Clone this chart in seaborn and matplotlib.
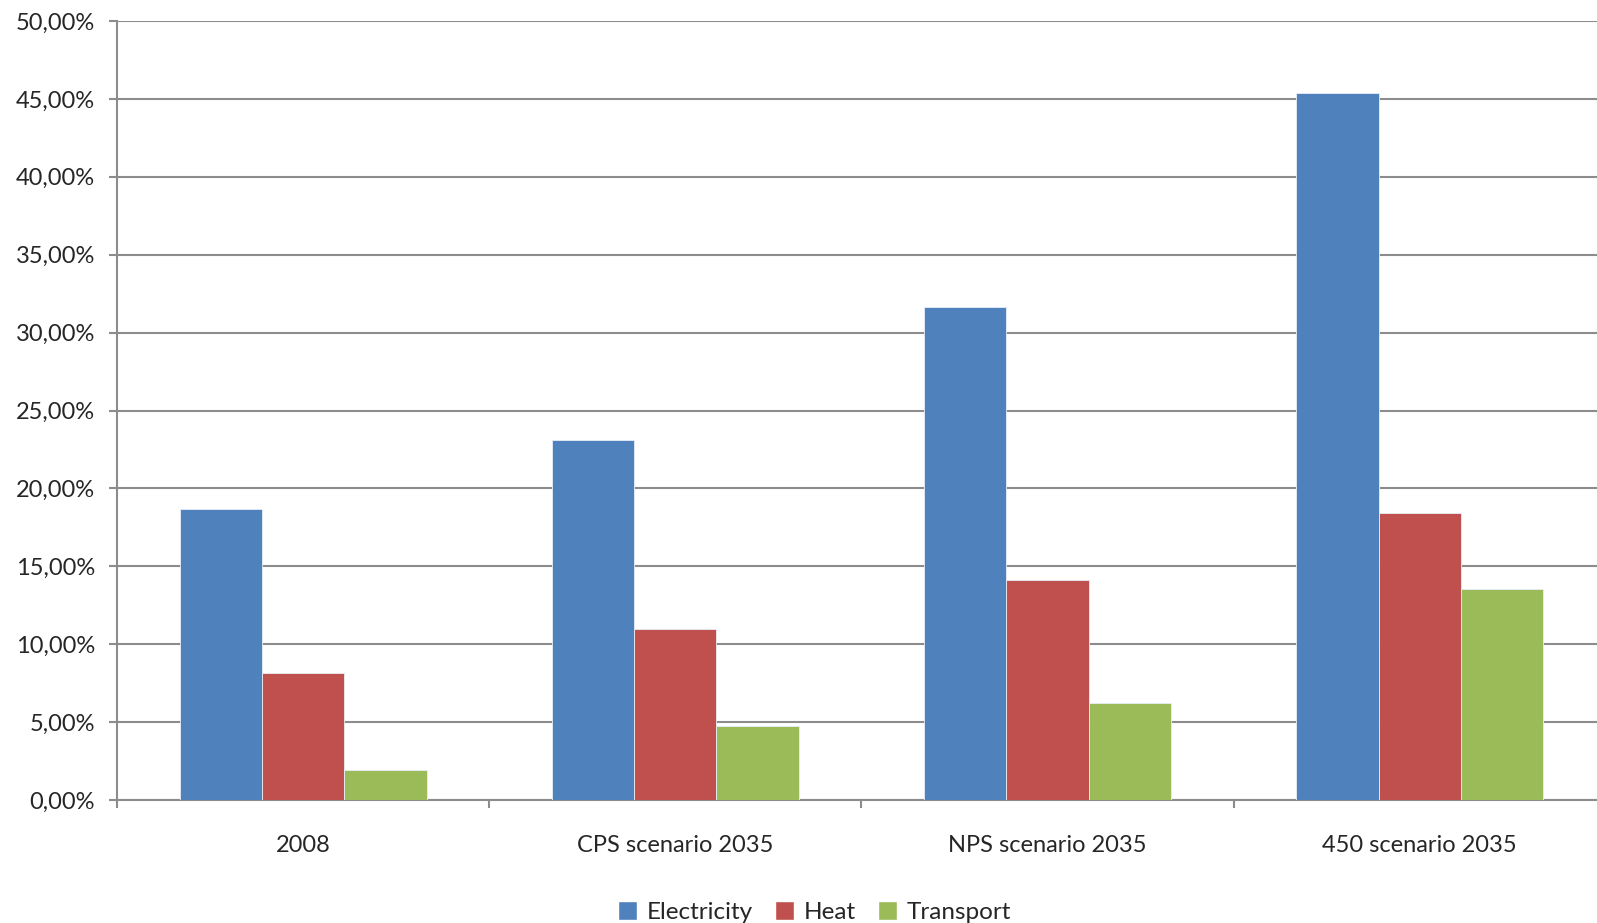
import pandas as pd
import matplotlib.pyplot as plt
import seaborn as sns
from matplotlib.ticker import FuncFormatter, FixedLocator
from matplotlib.patches import Patch

# data
categories = ['2008', 'CPS scenario 2035', 'NPS scenario 2035', '450 scenario 2035']
electricity = [18.68, 23.10, 31.67, 45.36]
heat = [8.17, 10.95, 14.15, 18.40]
transport = [1.93, 4.74, 6.24, 13.52]
series = ['Electricity', 'Heat', 'Transport']
colors = ['#4F81BD', '#C0504D', '#9BBB59']

rows = []
for name, vals in zip(series, [electricity, heat, transport]):
    for c, v in zip(categories, vals):
        rows.append({'cat': c, 'serie': name, 'val': v})
df = pd.DataFrame(rows)

sns.set_style('white')
plt.rcParams['font.family'] = ['Lato', 'DejaVu Sans']

fig = plt.figure(figsize=(15.97, 9.23), dpi=100)
ax = fig.add_axes([0.0733, 0.1333, 0.9267 * 1.006, 0.8439])

sns.barplot(data=df, x='cat', y='val', hue='serie', palette=colors, saturation=1,
            width=0.663, order=categories, hue_order=series, ax=ax,
            edgecolor='#e8eef7', linewidth=0.6, legend=False, zorder=3)

ax.set_ylim(0, 50)
ax.set_xlim(-0.5, 3.5)
ax.set_yticks(range(0, 51, 5))
ax.yaxis.set_major_formatter(FuncFormatter(lambda v, p: f'{v:.2f}%'.replace('.', ',')))
ax.grid(True, axis='y', color='#8c8c8c', linewidth=1.5, zorder=0)
ax.set_axisbelow(True)

for s in ['top', 'right']:
    ax.spines[s].set_visible(False)
for s in ['left', 'bottom']:
    ax.spines[s].set_color('#8c8c8c')
    ax.spines[s].set_linewidth(1.5)

ax.tick_params(axis='y', which='major', length=6, width=1.5, color='#8c8c8c',
               left=True, labelsize=17, pad=10)
ax.tick_params(axis='x', which='major', length=0, labelsize=17, pad=25)
ax.xaxis.set_minor_locator(FixedLocator([-0.5, 0.5, 1.5, 2.5]))
ax.tick_params(axis='x', which='minor', length=6, width=1.5, color='#8c8c8c', bottom=True)
ax.set_xlabel('')
ax.set_ylabel('')

handles = [Patch(facecolor=c, label=n) for c, n in zip(colors, series)]
fig.legend(handles=handles, loc='center', bbox_to_anchor=(0.51, 0.012), ncol=3,
           frameon=False, fontsize=17.5, handlelength=0.8, handleheight=0.8,
           handletextpad=0.4, columnspacing=0.9)

plt.savefig('out.png', dpi=100)
